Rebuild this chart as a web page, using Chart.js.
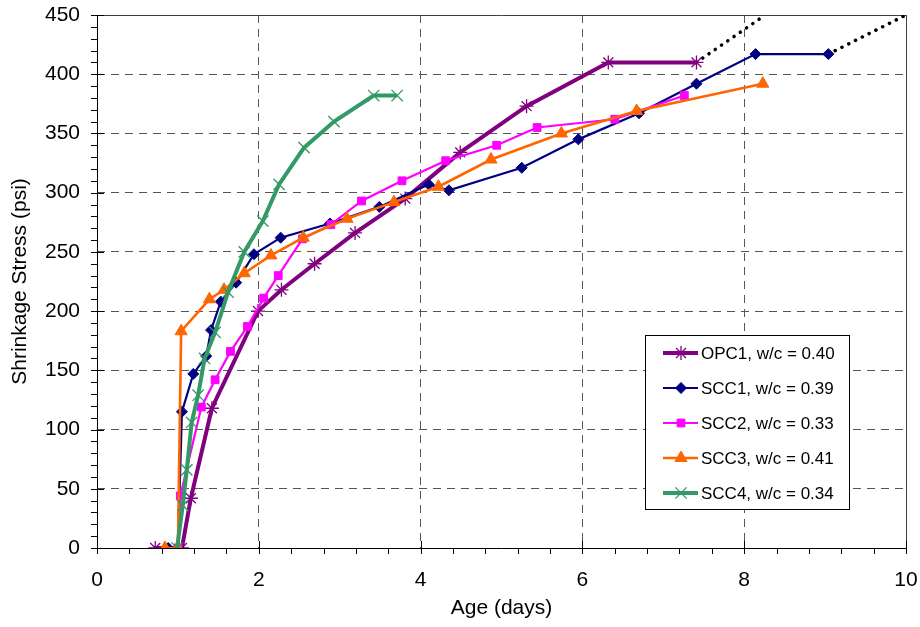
<!DOCTYPE html>
<html>
<head>
<meta charset="utf-8">
<script src="https://cdn.jsdelivr.net/npm/chart.js@4.4.0/dist/chart.umd.min.js"></script>
<style>
  body { margin: 0; background: #fff; }
  #wrap { width: 920px; height: 627px; }
</style>
</head>
<body>
<div id="wrap"><canvas id="grafico" width="920" height="627"></canvas></div>
<script>
// valores
const opc1X = [0.72, 1.05, 1.16, 1.42, 1.99, 2.28, 2.69, 3.19, 3.81, 4.49, 5.31, 6.32, 7.41];
const opc1Y = [0, 0, 42, 118, 200, 218, 240, 266, 295, 334, 373, 410, 410];

const scc1X = [0.88, 1.0, 1.05, 1.19, 1.35, 1.41, 1.53, 1.72, 1.94, 2.27, 2.88, 3.49, 4.10, 4.35, 5.25, 5.95, 6.70, 7.41, 8.14, 9.04];
const scc1Y = [0, 0, 115, 147, 162, 184, 208, 224, 248, 262, 274, 288, 307, 302, 321, 345, 367, 392, 417, 417];

const scc2X = [1.0, 1.03, 1.29, 1.46, 1.65, 1.86, 2.06, 2.24, 2.54, 2.89, 3.27, 3.77, 4.31, 4.94, 5.44, 6.40, 7.26];
const scc2Y = [0, 44, 119, 142, 166, 187, 211, 230, 261, 273, 293, 310, 327, 340, 355, 362, 382];

const scc3X = [0.84, 1.0, 1.04, 1.39, 1.57, 1.82, 2.15, 2.55, 3.09, 3.67, 4.22, 4.87, 5.74, 6.67, 8.23];
const scc3Y = [0, 0, 183, 210, 218, 232, 247, 262, 278, 292, 305, 328, 350, 369, 392];

const scc4X = [0.99, 1.06, 1.11, 1.17, 1.25, 1.33, 1.46, 1.62, 1.82, 2.05, 2.25, 2.56, 2.93, 3.42, 3.71];
const scc4Y = [0, 36, 66, 106, 129, 160, 182, 216, 250, 276, 307, 338, 360, 382, 382];

// extensiones punteadas
const opc1ExtX = [7.41, 8.26];
const opc1ExtY = [410, 450];
const scc1ExtX = [9.04, 10];
const scc1ExtY = [417, 450];

const etiquetas = ['OPC1, w/c = 0.40', 'SCC1, w/c = 0.39', 'SCC2, w/c = 0.33', 'SCC3, w/c = 0.41', 'SCC4, w/c = 0.34'];

const FUENTE = "'Liberation Sans', Arial, sans-serif";

function puntos(xs, ys) {
  return xs.map((x, i) => ({ x: x, y: ys[i] }));
}

const series = [
  { label: etiquetas[0], data: puntos(opc1X, opc1Y), borderColor: '#800080', backgroundColor: '#800080',
    borderWidth: 4, pointStyle: 'star', pointRadius: 7, pointBorderWidth: 1.3, order: 5 },
  { label: etiquetas[1], data: puntos(scc1X, scc1Y), borderColor: '#000080', backgroundColor: '#000080',
    borderWidth: 2.2, pointStyle: 'rectRot', pointRadius: 5.5, pointBorderWidth: 1, order: 4 },
  { label: etiquetas[2], data: puntos(scc2X, scc2Y), borderColor: '#FF00FF', backgroundColor: '#FF00FF',
    borderWidth: 2.2, pointStyle: 'rect', pointRadius: 5.5, pointBorderWidth: 1, order: 3 },
  { label: etiquetas[3], data: puntos(scc3X, scc3Y), borderColor: '#FF6600', backgroundColor: '#FF6600',
    borderWidth: 2.6, pointStyle: 'triangle', pointRadius: 7, pointBorderWidth: 1, order: 2 },
  { label: etiquetas[4], data: puntos(scc4X, scc4Y), borderColor: '#339966', backgroundColor: '#339966',
    borderWidth: 4, pointStyle: 'crossRot', pointRadius: 8, pointBorderWidth: 1.3, order: 1 }
];

const punteadas = [
  { label: 'ext1', data: puntos(opc1ExtX, opc1ExtY) },
  { label: 'ext2', data: puntos(scc1ExtX, scc1ExtY) }
].map(d => Object.assign(d, {
  borderColor: '#000', borderWidth: 3.5, borderDash: [0.1, 7.5], borderCapStyle: 'round',
  pointRadius: 0, order: 6
}));

// ejes, marcas menores y leyenda dibujados a mano
const decoracion = {
  id: 'decoracion',
  beforeDatasetsDraw(chart) {
    const { ctx, chartArea: a } = chart;
    ctx.save();
    ctx.strokeStyle = '#404040';
    ctx.lineWidth = 1;
    ctx.beginPath();
    ctx.moveTo(a.left, a.top + 0.5);
    ctx.lineTo(a.right + 0.5, a.top + 0.5);
    ctx.lineTo(a.right + 0.5, a.bottom);
    ctx.stroke();
    ctx.restore();
  },
  afterDraw(chart) {
    const { ctx, chartArea: a, scales } = chart;
    const x = scales.x, y = scales.y;
    ctx.save();
    ctx.strokeStyle = '#000';
    ctx.lineWidth = 1;
    ctx.beginPath();
    ctx.moveTo(a.left + 0.5, a.top);
    ctx.lineTo(a.left + 0.5, a.bottom + 0.5);
    ctx.lineTo(a.right, a.bottom + 0.5);
    for (let v = 0; v <= 450; v += 10) {
      const py = Math.round(y.getPixelForValue(v)) + 0.5;
      const mayor = v % 50 === 0;
      ctx.moveTo(a.left - 6, py);
      ctx.lineTo(mayor ? a.left + 7 : a.left, py);
    }
    for (let i = 0; i <= 25; i++) {
      const v = i * 0.4;
      const px = Math.round(x.getPixelForValue(v)) + 0.5;
      const mayor = i % 5 === 0;
      ctx.moveTo(px, a.bottom + 6);
      ctx.lineTo(px, mayor ? a.bottom - 7 : a.bottom);
    }
    ctx.stroke();

    // titulos de ejes
    ctx.fillStyle = '#000';
    ctx.font = '21px ' + FUENTE;
    ctx.textAlign = 'center';
    ctx.textBaseline = 'middle';
    ctx.fillText('Age (days)', (a.left + a.right) / 2, 608);
    ctx.save();
    ctx.translate(20, (a.top + a.bottom) / 2);
    ctx.rotate(-Math.PI / 2);
    ctx.fillText('Shrinkage Stress (psi)', 0, 0);
    ctx.restore();

    // leyenda
    const bx = 645, by = 335, bw = 204, bh = 174;
    ctx.fillStyle = '#fff';
    ctx.fillRect(bx, by, bw, bh);
    ctx.strokeStyle = '#000';
    ctx.lineWidth = 1;
    ctx.strokeRect(bx + 0.5, by + 0.5, bw, bh);
    ctx.font = '17px ' + FUENTE;
    ctx.textAlign = 'left';
    series.forEach((s, i) => {
      const ry = by + 18 + i * 35;
      ctx.strokeStyle = s.borderColor;
      ctx.fillStyle = s.backgroundColor;
      ctx.lineWidth = s.borderWidth;
      ctx.beginPath();
      ctx.moveTo(663, ry);
      ctx.lineTo(698, ry);
      ctx.stroke();
      ctx.lineWidth = s.pointBorderWidth;
      Chart.helpers.drawPoint(ctx, { pointStyle: s.pointStyle, radius: s.pointRadius, rotation: 0, borderWidth: s.pointBorderWidth }, 681, ry);
      ctx.fillStyle = '#000';
      ctx.fillText(s.label, 701, ry + 1);
    });
    ctx.restore();
  }
};

new Chart(document.getElementById('grafico'), {
  type: 'line',
  data: { datasets: series.concat(punteadas) },
  options: {
    responsive: false,
    animation: false,
    layout: { padding: { top: 15, right: 14, left: 0, bottom: 0 } },
    plugins: { legend: { display: false }, tooltip: { enabled: false } },
    elements: { line: { tension: 0 } },
    scales: {
      x: {
        type: 'linear', min: 0, max: 10,
        ticks: { stepSize: 2, color: '#000', padding: 20, font: { family: FUENTE, size: 21 } },
        grid: { color: '#555', drawTicks: false },
        border: { display: false, dash: [8, 6] },
        afterFit: s => { s.height = 79; s.paddingLeft = 0; s.paddingRight = 0; }
      },
      y: {
        min: 0, max: 450,
        ticks: { stepSize: 50, color: '#000', padding: 17, font: { family: FUENTE, size: 21 } },
        grid: { color: '#555', drawTicks: false },
        border: { display: false, dash: [8, 6] },
        afterFit: s => { s.width = 97; s.paddingTop = 0; s.paddingBottom = 0; }
      }
    }
  },
  plugins: [decoracion]
});
</script>
</body>
</html>
